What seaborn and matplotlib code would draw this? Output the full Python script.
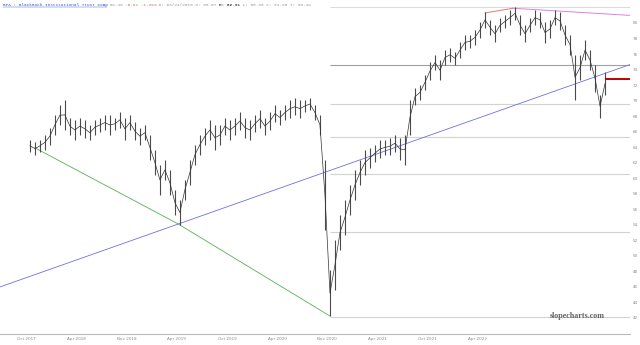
import matplotlib
matplotlib.use("Agg")
import matplotlib.pyplot as plt
from matplotlib.lines import Line2D
import seaborn as sns
import pandas as pd

# ---------------- data ----------------
series_start = "2017-10-12"
series_end = "2023-07-12"
highs = [64.9, 64.6, 64.9, 65.6, 66.5, 68.1, 69.4, 70.1, 67.8, 67.5,
         67.8, 67.5, 66.8, 67.5, 67.8, 68.1, 68.1, 67.8, 68.5, 67.8,
         68.1, 67.2, 66.5, 66.8, 65.6, 63.6, 61.7, 62.3, 61.0, 58.5,
         57.2, 59.8, 62.3, 64.3, 65.6, 66.5, 67.5, 66.8, 66.8, 67.8,
         67.5, 67.8, 68.5, 67.8, 67.5, 68.1, 68.8, 67.8, 68.5, 69.4,
         68.8, 69.4, 70.1, 70.3, 70.1, 70.1, 70.3, 69.4, 68.1, 62.3,
         48.1, 52.0, 55.2, 57.2, 59.1, 61.0, 62.3, 63.6, 63.9, 64.3,
         64.9, 64.9, 65.2, 65.6, 65.2, 65.6, 70.1, 71.6, 72.0, 73.3,
         75.0, 75.9, 75.2, 76.5, 76.8, 76.3, 77.5, 78.5, 78.5, 79.1,
         80.1, 81.4, 80.4, 79.7, 80.6, 81.0, 81.7, 82.1, 81.0, 79.7,
         80.6, 81.7, 81.4, 80.1, 80.4, 81.7, 81.4, 79.7, 78.5, 75.9,
         75.9, 77.8, 76.5, 74.6, 70.7, 73.7]
lows = [63.4, 63.0, 63.4, 63.6, 64.3, 65.6, 66.8, 66.2, 65.6, 64.9,
        65.6, 65.2, 64.9, 65.6, 65.9, 66.2, 65.6, 66.2, 66.5, 64.9,
        66.2, 64.9, 64.3, 64.9, 62.3, 60.4, 57.8, 59.8, 57.8, 55.2,
        53.9, 57.2, 59.1, 61.7, 63.0, 64.3, 64.9, 63.6, 64.3, 65.6,
        64.9, 65.6, 66.2, 65.2, 64.9, 65.9, 66.5, 65.6, 66.2, 67.2,
        66.8, 67.5, 67.8, 68.1, 67.8, 68.5, 68.8, 67.5, 65.6, 53.3,
        42.2, 45.6, 50.7, 52.7, 55.2, 57.2, 59.1, 60.4, 61.3, 62.1,
        62.6, 63.0, 63.0, 63.4, 62.3, 61.7, 65.6, 69.4, 70.1, 71.4,
        72.6, 73.9, 72.6, 74.6, 75.0, 74.6, 75.5, 76.5, 76.8, 77.2,
        78.1, 79.4, 78.5, 77.5, 78.8, 79.4, 79.7, 80.4, 78.5, 77.5,
        78.8, 79.7, 79.4, 77.4, 78.1, 79.7, 79.1, 77.2, 75.9, 70.1,
        72.6, 75.2, 73.9, 71.1, 67.8, 70.7]
last_price = 72.8

level_start = "2020-10-11"
levels = [82.07, 74.58, 69.55, 65.30, 60.50, 53.00, 42.10]
level_colors = ["#dcdcdc", "#a0a0a0", "#d2d2d2", "#d2d2d2", "#d2d2d2", "#d2d2d2", "#d2d2d2"]

blue_dates = ["2017-06-25", "2023-10-11"]
blue_prices = [45.95, 74.64]
green_dates = ["2017-10-30", "2019-04-05", "2020-10-11"]
green_prices = [63.9, 54.1, 42.2]
salmon_dates = ["2022-04-30", "2022-08-10"]
salmon_prices = [81.3, 81.9]
pink_dates = ["2022-08-10", "2023-10-11"]
pink_prices = [81.9, 80.98]

x_tick_dates = ["2017-10-01", "2018-04-01", "2018-10-01", "2019-04-01", "2019-10-01",
                "2020-04-01", "2020-10-01", "2021-04-01", "2021-10-01", "2022-04-01"]
x_tick_labels = ["Oct 2017", "Apr 2018", "Nov 2018", "Apr 2019", "Oct 2019",
                 "Apr 2020", "Nov 2020", "Apr 2021", "Oct 2021", "Apr 2022"]
y_ticks = list(range(42, 82, 2))

x_limits = ["2017-06-25", "2023-10-11"]
y_limits = (39.88, 82.58)

# ---------------- figure ----------------
sns.set_style("white")
plt.rcParams["font.family"] = ["DejaVu Sans"]

fig = plt.figure(figsize=(6.4, 3.45), dpi=100)
ax = fig.add_axes([0, 1 - 334 / 345, 630 / 640, (334 - 3) / 345])

dates = pd.date_range(series_start, series_end, periods=len(highs))
df = pd.DataFrame({"date": dates, "high": highs, "low": lows})
df["mid"] = (df["high"] + df["low"]) / 2

x0, x1 = pd.to_datetime(x_limits[0]), pd.to_datetime(x_limits[1])

# level lines
for lv, c in zip(levels, level_colors):
    ax.hlines(lv, pd.to_datetime(level_start), x1, color=c, lw=0.8, zorder=1)

# trend lines
ax.plot(pd.to_datetime(blue_dates), blue_prices, color="#7070e0", lw=0.6, zorder=2)
ax.plot(pd.to_datetime(green_dates), green_prices, color="#55b055", lw=0.6, zorder=2)
ax.plot(pd.to_datetime(salmon_dates), salmon_prices, color="#e07878", lw=0.7, zorder=2)
ax.plot(pd.to_datetime(pink_dates), pink_prices, color="#e080e0", lw=0.7, zorder=2)

# price bars
ax.vlines(df["date"], df["low"], df["high"], color="#4a4a4a", lw=0.8, zorder=3)
sns.lineplot(data=df, x="date", y="mid", ax=ax, color="#333333", lw=0.5, zorder=4)

# last price line
ax.hlines(last_price, df["date"].iloc[-1], x1, color="#c00000", lw=1.4, zorder=5)

ax.set_xlim(x0, x1)
ax.set_ylim(*y_limits)
ax.set_xlabel("")
ax.set_ylabel("")
ax.set_xticks(pd.to_datetime(x_tick_dates))
ax.set_xticklabels(x_tick_labels)
ax.yaxis.tick_right()
ax.set_yticks(y_ticks)
ax.set_yticklabels([str(v) for v in y_ticks])
ax.tick_params(axis="both", length=0, labelsize=3, labelcolor="#8a8a8a")
ax.tick_params(axis="x", pad=2.5)
ax.tick_params(axis="y", pad=2)
for s in ["top", "left", "right"]:
    ax.spines[s].set_visible(False)
ax.spines["bottom"].set_color("#b8b8b8")
ax.spines["bottom"].set_linewidth(0.8)

# watermark
ax.text(0.96, 0.055, "slopecharts.com", transform=ax.transAxes, ha="right", va="center",
        fontsize=5.8, fontweight="bold", family="Liberation Serif", color="#606060")

# title (multi-coloured, monospace)
fs = 3.12
char_px = 0.6 * fs * 100 / 72
pieces = [("BFA : BlackRock Institutional Trust Comp", "#3355cc", "normal"),
          (" 69.48 ", "#999999", "normal"),
          ("-0.91 -1.29%", "#dd6666", "normal"),
          (" D: 03/24/2016 O: 65.07 ", "#999999", "normal"),
          ("H: 62.91", "#444444", "bold"),
          (" L: 65.36 C: 61.90 T: 68.49", "#999999", "normal")]
xpx = 3.0
ypx = 5.0
W, H = 640.0, 345.0
for txt, col, wt in pieces:
    fig.text(xpx / W, 1 - ypx / H, txt, color=col, fontsize=fs, fontweight=wt,
             family="Liberation Mono", ha="left", va="center")
    if col == "#3355cc":
        fig.add_artist(Line2D([xpx / W, (xpx + len(txt) * char_px) / W],
                              [1 - (ypx + 2.2) / H] * 2, color=col, lw=0.3))
    xpx += len(txt) * char_px

fig.savefig("out.png", dpi=100)
